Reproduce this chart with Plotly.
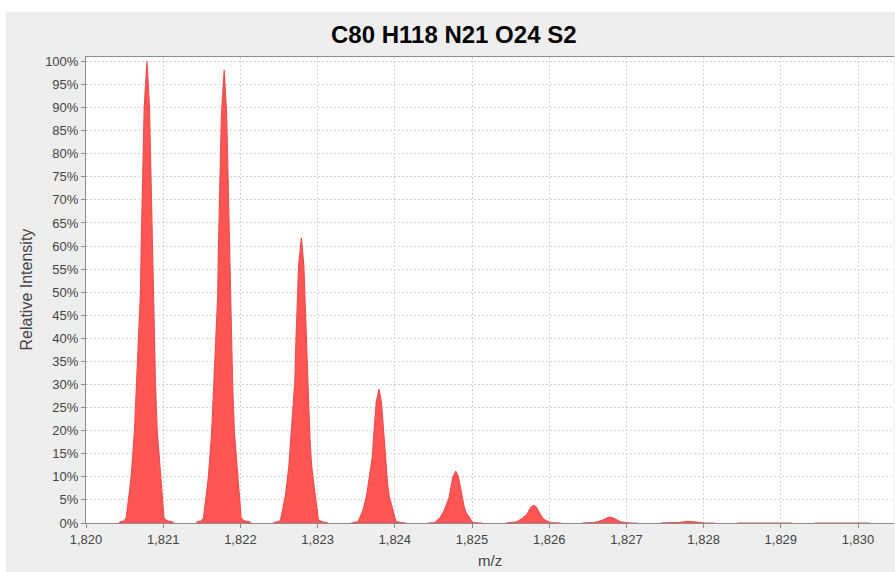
import plotly.graph_objects as go

# ---- data ----
peak_centers = [1820.79, 1821.79, 1822.79, 1823.795, 1824.79, 1825.80, 1826.79, 1827.80, 1828.80, 1829.80]
peak_heights = [100.0, 98.2, 61.8, 29.0, 11.2, 3.8, 1.25, 0.35, 0.12, 0.05]

# normalised profile of one peak (offset in m/z, fraction of the peak height), traced from the first peak
profile_offsets = [-0.36, -0.34, -0.30, -0.27, -0.24, -0.205, -0.162, -0.136, -0.11, -0.084, -0.075,
                   -0.062, -0.054, -0.036, 0.0, 0.032, 0.045, 0.058, 0.075, 0.080, 0.097, 0.110,
                   0.132, 0.175, 0.20, 0.22, 0.27, 0.32, 0.35]
profile_fractions = [0.0, 0.003, 0.004, 0.01, 0.05, 0.10, 0.20, 0.30, 0.40, 0.50, 0.60,
                     0.70, 0.80, 0.90, 1.0, 0.90, 0.80, 0.70, 0.60, 0.50, 0.40, 0.30,
                     0.20, 0.10, 0.05, 0.01, 0.004, 0.003, 0.0]

title_text = "C80 H118 N21 O24 S2"
x_title = "m/z"
y_title = "Relative Intensity"

# ---- build trace ----
xs, ys = [], []
for c, h in zip(peak_centers, peak_heights):
    for o, f in zip(profile_offsets, profile_fractions):
        xs.append(c + o)
        ys.append(h * f)
    xs.append(None)
    ys.append(None)

W, H = 895, 572
L, R, T, B = 86, 1, 57, 49
PW, PH = W - L - R, H - T - B

def px(xp):
    return (xp - L) / PW

def py(yp):
    return (H - B - yp) / PH

fig = go.Figure()
fig.add_trace(go.Scatter(
    x=xs, y=ys, mode="lines", fill="toself",
    fillcolor="rgb(255,85,85)",
    line=dict(color="rgb(235,80,80)", width=1.2),
    hoverinfo="skip", showlegend=False,
))

tickfont = dict(family="Liberation Sans", size=13, color="#444444")
grid = dict(showgrid=True, gridcolor="#d6d6d6", gridwidth=1, griddash="2px,2px")

fig.update_layout(
    width=W, height=H,
    margin=dict(l=L, r=R, t=T, b=B, pad=0),
    paper_bgcolor="#eeeeee",
    plot_bgcolor="white",
    xaxis=dict(range=[1820, 1820 + PW / 77.2], tick0=1820, dtick=1, tickformat=",d",
               showline=True, linecolor="#8c8c8c", linewidth=1, mirror=True,
               ticks="outside", ticklen=4, tickcolor="#8c8c8c",
               zeroline=False, tickfont=tickfont, **grid),
    yaxis=dict(range=[0, 100 * PH / 461.6], tick0=0, dtick=5, ticksuffix="%",
               showline=True, linecolor="#8c8c8c", linewidth=1, mirror=False,
               ticks="outside", ticklen=4, tickcolor="#8c8c8c",
               zeroline=False, tickfont=tickfont, **grid),
    annotations=[
        dict(text="<b>" + title_text + "</b>", xref="paper", yref="paper",
             x=px(454), y=py(34), xanchor="center", yanchor="middle", showarrow=False,
             font=dict(family="Liberation Sans", size=24, color="#000000")),
        dict(text=y_title, xref="paper", yref="paper", textangle=-90,
             x=px(25.5), y=py(290), xanchor="center", yanchor="middle", showarrow=False,
             font=dict(family="Liberation Sans", size=16, color="#444444")),
        dict(text=x_title, xref="paper", yref="paper",
             x=px(490), y=py(560), xanchor="center", yanchor="middle", showarrow=False,
             font=dict(family="Liberation Sans", size=15, color="#444444")),
    ],
    shapes=[
        dict(type="rect", xref="paper", yref="paper", x0=px(-5), x1=px(W + 5), y0=py(12), y1=py(-5),
             fillcolor="white", line=dict(width=0), layer="above"),
        dict(type="rect", xref="paper", yref="paper", x0=px(-5), x1=px(6), y0=py(H + 5), y1=py(-5),
             fillcolor="white", line=dict(width=0), layer="above"),
    ],
)

fig.write_html("out.html")
